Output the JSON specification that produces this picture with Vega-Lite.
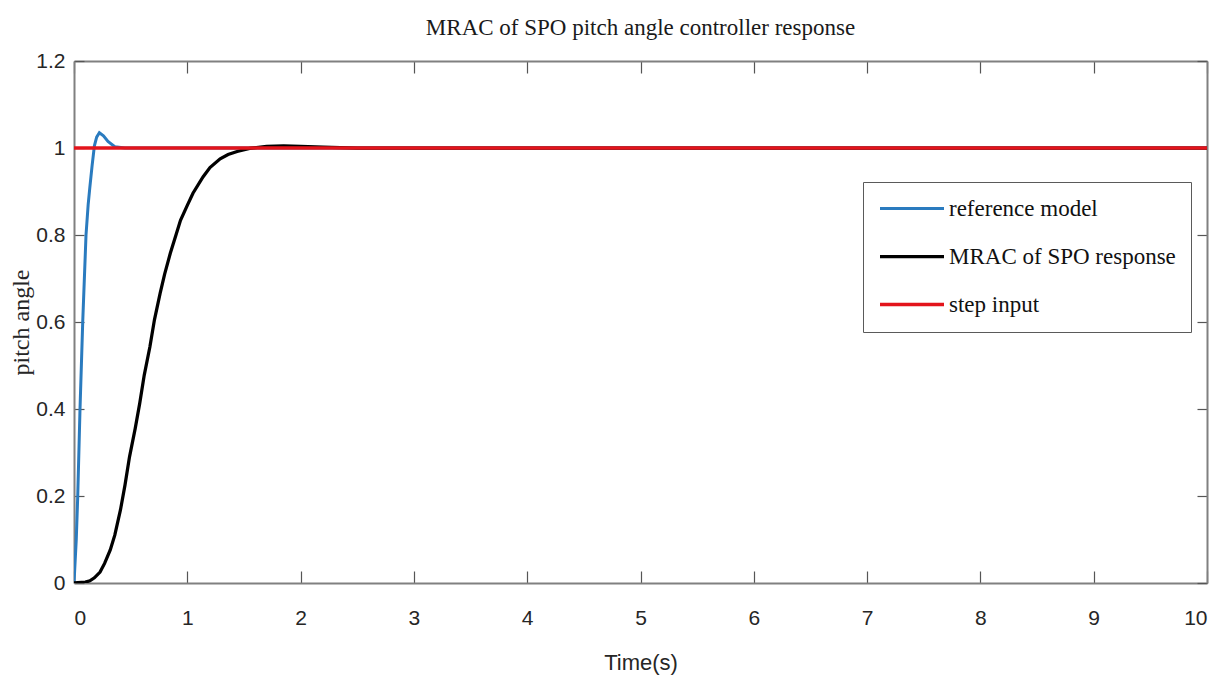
{
  "$schema": "https://vega.github.io/schema/vega-lite/v6.json",
  "width": 1133,
  "height": 522,
  "autosize": {"type": "none"},
  "padding": {"left": 74, "top": 61, "right": 18, "bottom": 102},
  "background": "white",
  "title": {
    "text": "MRAC of SPO pitch angle controller response",
    "font": "Liberation Serif",
    "fontSize": 23,
    "fontWeight": "normal",
    "color": "#1a1a1a",
    "anchor": "middle",
    "baseline": "bottom",
    "offset": -13
  },
  "config": {
    "view": {"stroke": null},
    "axis": {
      "grid": false,
      "domainColor": "#808080",
      "domainWidth": 2,
      "tickColor": "#555555",
      "tickWidth": 1.2,
      "labelColor": "#262626",
      "labelFont": "Liberation Sans",
      "labelFontSize": 21,
      "titleColor": "#262626",
      "titleFontWeight": "normal"
    }
  },
  "datasets": {
    "curves": [
      {"t": 0, "v": 0, "series": "reference model"},
      {"t": 0.02, "v": 0.1, "series": "reference model"},
      {"t": 0.033, "v": 0.2, "series": "reference model"},
      {"t": 0.053, "v": 0.4, "series": "reference model"},
      {"t": 0.077, "v": 0.6, "series": "reference model"},
      {"t": 0.106, "v": 0.8, "series": "reference model"},
      {"t": 0.125, "v": 0.87, "series": "reference model"},
      {"t": 0.14, "v": 0.91, "series": "reference model"},
      {"t": 0.16, "v": 0.96, "series": "reference model"},
      {"t": 0.18, "v": 1.005, "series": "reference model"},
      {"t": 0.2, "v": 1.025, "series": "reference model"},
      {"t": 0.224, "v": 1.035, "series": "reference model"},
      {"t": 0.26, "v": 1.028, "series": "reference model"},
      {"t": 0.3, "v": 1.015, "series": "reference model"},
      {"t": 0.36, "v": 1.003, "series": "reference model"},
      {"t": 0.45, "v": 1.0, "series": "reference model"},
      {"t": 10, "v": 1.0, "series": "reference model"},
      {"t": 0, "v": 0, "series": "MRAC of SPO response"},
      {"t": 0.1, "v": 0.002, "series": "MRAC of SPO response"},
      {"t": 0.14, "v": 0.005, "series": "MRAC of SPO response"},
      {"t": 0.18, "v": 0.012, "series": "MRAC of SPO response"},
      {"t": 0.23, "v": 0.025, "series": "MRAC of SPO response"},
      {"t": 0.27, "v": 0.045, "series": "MRAC of SPO response"},
      {"t": 0.32, "v": 0.076, "series": "MRAC of SPO response"},
      {"t": 0.36, "v": 0.11, "series": "MRAC of SPO response"},
      {"t": 0.41, "v": 0.168, "series": "MRAC of SPO response"},
      {"t": 0.45, "v": 0.225, "series": "MRAC of SPO response"},
      {"t": 0.49, "v": 0.29, "series": "MRAC of SPO response"},
      {"t": 0.54, "v": 0.355, "series": "MRAC of SPO response"},
      {"t": 0.58, "v": 0.413, "series": "MRAC of SPO response"},
      {"t": 0.62, "v": 0.478, "series": "MRAC of SPO response"},
      {"t": 0.67, "v": 0.543, "series": "MRAC of SPO response"},
      {"t": 0.71, "v": 0.605, "series": "MRAC of SPO response"},
      {"t": 0.76, "v": 0.666, "series": "MRAC of SPO response"},
      {"t": 0.8, "v": 0.71, "series": "MRAC of SPO response"},
      {"t": 0.85, "v": 0.758, "series": "MRAC of SPO response"},
      {"t": 0.9, "v": 0.8, "series": "MRAC of SPO response"},
      {"t": 0.94, "v": 0.834, "series": "MRAC of SPO response"},
      {"t": 1.0, "v": 0.868, "series": "MRAC of SPO response"},
      {"t": 1.05, "v": 0.896, "series": "MRAC of SPO response"},
      {"t": 1.14, "v": 0.934, "series": "MRAC of SPO response"},
      {"t": 1.2, "v": 0.955, "series": "MRAC of SPO response"},
      {"t": 1.29, "v": 0.975, "series": "MRAC of SPO response"},
      {"t": 1.36, "v": 0.985, "series": "MRAC of SPO response"},
      {"t": 1.44, "v": 0.992, "series": "MRAC of SPO response"},
      {"t": 1.55, "v": 0.999, "series": "MRAC of SPO response"},
      {"t": 1.7, "v": 1.004, "series": "MRAC of SPO response"},
      {"t": 1.85, "v": 1.005, "series": "MRAC of SPO response"},
      {"t": 2.0, "v": 1.004, "series": "MRAC of SPO response"},
      {"t": 2.2, "v": 1.002, "series": "MRAC of SPO response"},
      {"t": 2.5, "v": 1.0, "series": "MRAC of SPO response"},
      {"t": 10, "v": 1.0, "series": "MRAC of SPO response"},
      {"t": 0, "v": 1.0, "series": "step input"},
      {"t": 10, "v": 1.0, "series": "step input"}
    ]
  },
  "data": {"name": "curves"},
  "layer": [
    {
      "mark": {"type": "line", "clip": true},
      "encoding": {
        "x": {
          "field": "t",
          "type": "quantitative",
          "scale": {"domain": [0, 10], "nice": false, "zero": false},
          "axis": {
            "orient": "bottom",
            "values": [0, 1, 2, 3, 4, 5, 6, 7, 8, 9, 10],
            "format": "d",
            "tickSize": -12,
            "labelPadding": 36,
            "title": "Time(s)",
            "titleFont": "Liberation Sans",
            "titleFontSize": 22,
            "titlePadding": 24
          }
        },
        "y": {
          "field": "v",
          "type": "quantitative",
          "scale": {"domain": [0, 1.2], "nice": false},
          "axis": {
            "orient": "left",
            "values": [0, 0.2, 0.4, 0.6, 0.8, 1, 1.2],
            "format": "~g",
            "tickSize": -10,
            "labelPadding": 19,
            "title": "pitch angle",
            "titleFont": "Liberation Serif",
            "titleFontSize": 24,
            "titlePadding": 2
          }
        },
        "color": {
          "field": "series",
          "type": "nominal",
          "scale": {
            "domain": ["reference model", "MRAC of SPO response", "step input"],
            "range": ["#2a7bbf", "#000000", "#e3141b"]
          },
          "legend": {
            "title": null,
            "orient": "none",
            "legendX": 789,
            "legendY": 121,
            "symbolType": "stroke",
            "symbolSize": 4096,
            "symbolStrokeWidth": 4,
            "clipHeight": 23,
            "labelFont": "Liberation Serif",
            "labelFontSize": 23,
            "labelColor": "#111111",
            "labelOffset": 3,
            "labelLimit": 400,
            "rowPadding": 24,
            "padding": 15,
            "strokeColor": "#5a5a5a",
            "fillColor": "white",
            "cornerRadius": 0
          }
        },
        "strokeWidth": {
          "field": "series",
          "type": "nominal",
          "scale": {
            "domain": ["reference model", "MRAC of SPO response", "step input"],
            "range": [3, 3.5, 5.5]
          },
          "legend": null
        }
      }
    },
    {
      "data": {"values": [{"t": 0, "v": 0}, {"t": 10, "v": 1.2}]},
      "mark": {"type": "line", "strokeOpacity": 0},
      "encoding": {
        "x": {
          "field": "t",
          "type": "quantitative",
          "axis": {
            "orient": "top",
            "values": [0, 1, 2, 3, 4, 5, 6, 7, 8, 9, 10],
            "tickSize": -12,
            "labels": false,
            "title": null
          }
        },
        "y": {
          "field": "v",
          "type": "quantitative",
          "axis": {
            "orient": "right",
            "values": [0, 0.2, 0.4, 0.6, 0.8, 1, 1.2],
            "tickSize": -10,
            "labels": false,
            "title": null
          }
        }
      }
    }
  ],
  "resolve": {"axis": {"x": "independent", "y": "independent"}}
}
